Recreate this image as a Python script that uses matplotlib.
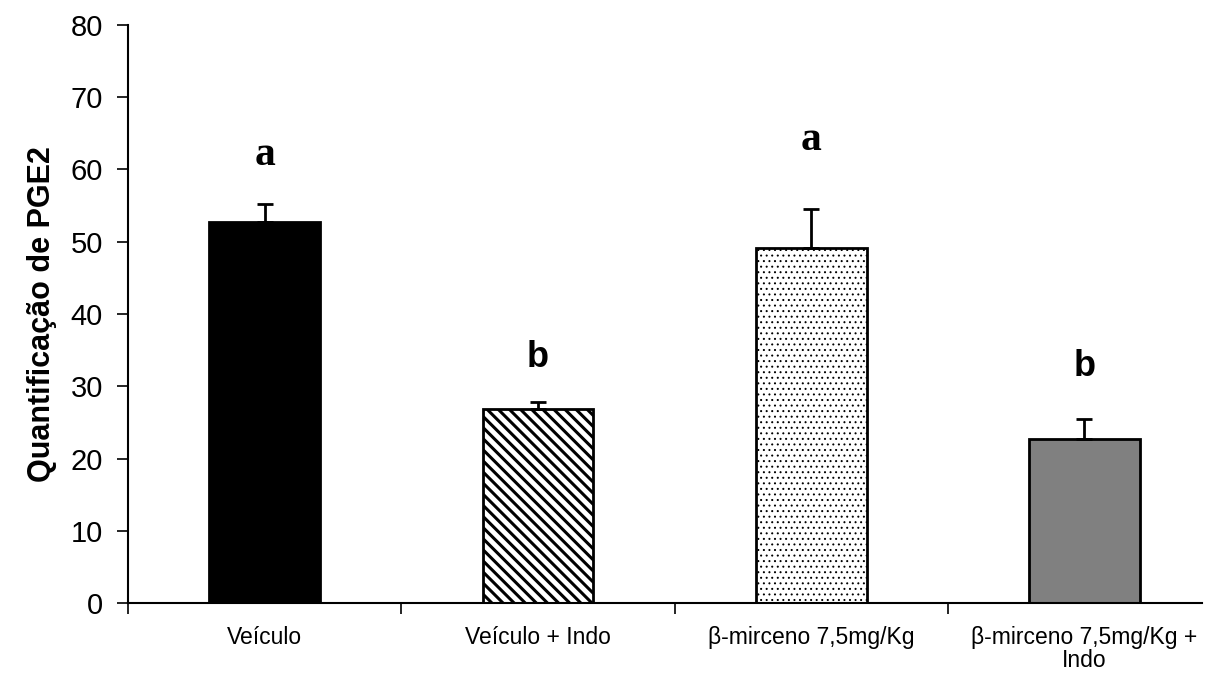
import matplotlib
matplotlib.use("Agg")
import matplotlib.pyplot as plt
import numpy as np

categories = ["Veículo", "Veículo + Indo", "β-mirceno 7,5mg/Kg", "β-mirceno 7,5mg/Kg +\nIndo"]
means = [52.7, 26.8, 49.1, 22.7]
errors = [2.5, 1.0, 5.5, 2.8]
letters = ["a", "b", "a", "b"]
y_ticks = [0, 10, 20, 30, 40, 50, 60, 70, 80]

fig = plt.figure(figsize=(12.09, 6.77), dpi=100)
ax = fig.add_axes([128 / 1209, 74 / 677, (1202 - 128) / 1209, 578 / 677])

x = np.arange(len(categories))
faces = ["black", "white", "white", "#808080"]
hatches = [None, "\\\\\\", "...", None]
hatch_widths = [1.0, 2.2, 0.7, 1.0]
for xi, m, fc, h, hw in zip(x, means, faces, hatches, hatch_widths):
    with plt.rc_context({"hatch.linewidth": hw}):
        b = ax.bar(xi, m, width=0.405, color=fc, edgecolor="black",
                   linewidth=2, hatch=h, zorder=2)[0]
    if hasattr(b, "set_hatch_linewidth"):
        b.set_hatch_linewidth(hw)

ax.errorbar(x, means, yerr=[np.zeros(len(means)), errors], fmt="none",
            ecolor="black", elinewidth=2, capsize=6, capthick=2, zorder=3)

# significance letters: serif "a", sans "b"
letter_fonts = [("Liberation Serif", 30), ("Liberation Sans", 26),
                ("Liberation Serif", 30), ("Liberation Sans", 26)]
letter_offsets = [6.8, 6.2, 9.5, 7.2]
for xi, m, e, lab, (fam, fs), off in zip(x, means, errors, letters, letter_fonts, letter_offsets):
    ax.text(xi, m + e + off, lab, ha="center", va="center", fontsize=fs,
            fontweight="bold", family=fam)

ax.set_xlim(-0.5, 3.43)
ax.set_ylim(0, 80)
ax.set_yticks(y_ticks)
ax.set_yticklabels([str(t) for t in y_ticks], fontsize=21, family="Liberation Sans")
ax.set_xticks(np.arange(-0.5, 3.0, 1.0))
ax.set_xticklabels([])
ax.tick_params(axis="x", length=8, width=1.2, direction="out")
ax.tick_params(axis="y", length=8, width=1.2, direction="out", pad=10)
for xi, lab in zip(x, categories):
    ax.text(xi, -3.2, lab, ha="center", va="top", fontsize=16.5,
            family="Liberation Sans", linespacing=1.0)

ax.spines["top"].set_visible(False)
ax.spines["right"].set_visible(False)
ax.spines["left"].set_linewidth(1.5)
ax.spines["bottom"].set_linewidth(1.5)
ax.set_ylabel("Quantificação de PGE2", fontsize=22, fontweight="bold",
              family="Liberation Sans", labelpad=10)

fig.savefig("out.png", dpi=100)
